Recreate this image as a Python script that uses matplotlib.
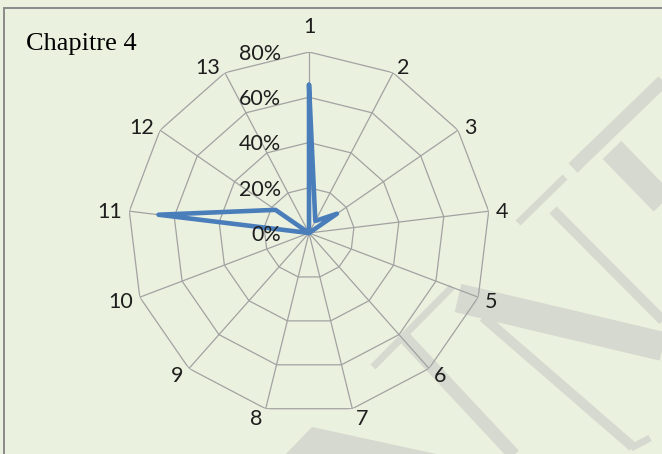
import numpy as np
import matplotlib
matplotlib.use("Agg")
import matplotlib.pyplot as plt

# ---------------- data ----------------
categories = ["1", "2", "3", "4", "5", "6", "7", "8", "9", "10", "11", "12", "13"]
values = [0.655, 0.06, 0.15, 0.0, 0.0, 0.0, 0.0, 0.0, 0.0, 0.0, 0.67, 0.18, 0.0]
ring_values = [0.0, 0.2, 0.4, 0.6, 0.8]
ring_labels = ["0%", "20%", "40%", "60%", "80%"]
title = "Chapitre 4"

# ---------------- style ----------------
BG = "#EBF1DF"
GRID = "#A2A2A2"
LINE = "#4A7EBB"
WM = "#D5D9CF"
TXT = "#1E1E1E"
SANS = ["Lato", "DejaVu Sans"]
SERIF = ["Liberation Serif", "DejaVu Serif"]

W, H = 662, 454
fig = plt.figure(figsize=(W / 100, H / 100), dpi=100, facecolor=BG)

# ---- background decoration (watermark + frame), in pixel space ----
wax = fig.add_axes([0, 0, 1, 1], zorder=0)
wax.set_xlim(0, W)
wax.set_ylim(H, 0)
wax.axis("off")
wax.set_facecolor(BG)
pt = 0.72  # px -> points at 100 dpi


def stroke(p0, p1, wpx, color=WM):
    wax.plot([p0[0], p1[0]], [p0[1], p1[1]], color=color, lw=wpx * pt,
             solid_capstyle="butt")


stroke((458, 298), (720, 360), 29)     # wide band
stroke((373, 367), (452, 287), 7)      # serif
stroke((405, 338), (530, 472), 13)     # stroke down-right
stroke((483, 317), (633, 447), 10)
stroke((631, 448), (650, 438), 7)
stroke((553, 210), (720, 378), 10)     # stem 1
stroke((518, 223), (565, 177), 7)      # serif 1
stroke((573, 168), (720, 26), 13)      # thick up-right
stroke((612, 150), (720, 261), 26)     # thick down-right
wax.fill([312, 450, 283], [427, 457, 457], color=WM, lw=0)

# frame
wax.plot([4, 4], [8, H + 5], color="#8C8C8C", lw=2 * pt, solid_capstyle="butt")
wax.plot([3, W + 5], [8, 8], color="#8C8C8C", lw=2 * pt, solid_capstyle="butt")

# title
fig.text(26 / W, 1 - 50 / H, title, family=SERIF, fontsize=19, color="black",
         ha="left", va="baseline")

# ---------------- radar ----------------
cx, cy, R = 309, 233, 181
ax = fig.add_axes([(cx - R) / W, (H - cy - R) / H, 2 * R / W, 2 * R / H],
                  projection="polar", zorder=1)
ax.set_facecolor("none")
ax.set_theta_zero_location("N")
ax.set_theta_direction(-1)
ax.set_ylim(0, ring_values[-1])
ax.grid(False)
ax.spines["polar"].set_visible(False)
ax.set_xticks([])
ax.set_yticks([])

n = len(categories)
angles = np.arange(n) * 2 * np.pi / n
closed = np.append(angles, angles[0])

for r in ring_values[1:]:
    ax.plot(closed, [r] * (n + 1), color=GRID, lw=0.9, zorder=1)
for a in angles:
    ax.plot([a, a], [0, ring_values[-1]], color=GRID, lw=0.9, zorder=1)

ax.plot(closed, np.append(values, values[0]), color=LINE, lw=3.3,
        solid_joinstyle="round", solid_capstyle="round", zorder=3)

# ring labels
for r, lab in zip(ring_values, ring_labels):
    ax.annotate(lab, xy=(0, r), xytext=(-28, 0), textcoords="offset pixels",
                ha="right", va="center_baseline", family=SANS, fontsize=15.5,
                color=TXT, zorder=4, annotation_clip=False)

# category labels
for a, lab in zip(angles, categories):
    s, c = np.sin(a), np.cos(a)
    if abs(s) < 0.1:
        ha = "center"
        dx = 0
        dy = 27 if c > 0 else -12
    else:
        ha = "left" if s > 0 else "right"
        dx = np.sign(s) * (2 + 5 * abs(s))
        dy = 8 * c
    ax.annotate(lab, xy=(a, ring_values[-1]), xytext=(dx, dy),
                textcoords="offset pixels", ha=ha, va="center_baseline",
                family=SANS, fontsize=15.5, color=TXT, annotation_clip=False)

fig.savefig("out.png", dpi=100, facecolor=BG)
